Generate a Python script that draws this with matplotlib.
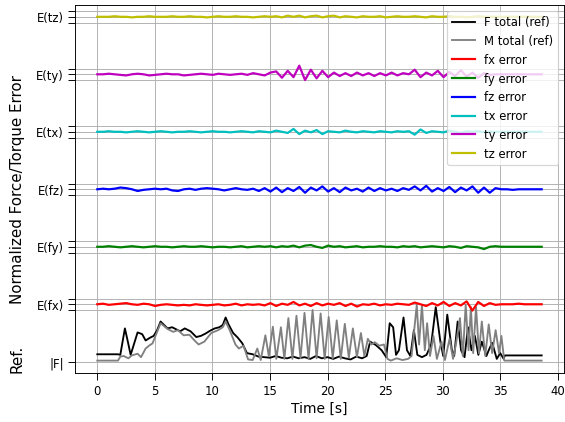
import numpy as np
import matplotlib
matplotlib.use("Agg")
import matplotlib.pyplot as plt
import matplotlib.transforms as mtransforms

# reference signals (normalized), time in s
f_t = [0, 1.8, 2.0, 2.2, 2.4, 2.6, 2.9, 3.1, 3.5, 3.9, 4.2, 4.6, 4.9, 5.2, 5.5,
       5.8, 6.1, 6.5, 6.8, 7.2, 7.6, 8.1, 8.6, 9.0, 9.4, 9.8, 10.2, 10.6, 10.9,
       11.15, 11.4, 11.8, 12.2, 12.6, 13.0, 13.5, 14.0, 14.5, 15.0, 15.5, 16.0,
       16.5, 17.0, 17.5, 18.0, 18.5, 19.0, 19.5, 20.0, 20.5, 21.0, 21.5, 22.0,
       22.5, 23.0, 23.4, 23.7, 24.2, 24.7, 25.1, 25.4, 25.7, 25.95, 26.2, 26.6,
       26.9, 27.2, 27.5, 27.8, 28.2, 28.6, 29.0, 29.4, 29.8, 30.05, 30.4, 30.8,
       31.0, 31.3, 31.6, 31.9, 32.2, 32.5, 32.8, 33.1, 33.4, 33.8, 34.0, 34.3,
       34.7, 35.0, 35.3, 35.4, 38.6]
f_total = [0.13, 0.13, 0.12, 0.35, 0.58, 0.40, 0.12, 0.25, 0.51, 0.48, 0.37,
           0.42, 0.45, 0.55, 0.70, 0.64, 0.58, 0.60, 0.57, 0.53, 0.58, 0.53,
           0.43, 0.45, 0.49, 0.54, 0.58, 0.60, 0.64, 0.77, 0.65, 0.50, 0.42,
           0.32, 0.15, 0.13, 0.09, 0.08, 0.07, 0.10, 0.07, 0.06, 0.09, 0.06,
           0.08, 0.05, 0.10, 0.06, 0.08, 0.05, 0.09, 0.06, 0.04, 0.09, 0.06,
           0.10, 0.35, 0.29, 0.20, 0.08, 0.67, 0.60, 0.12, 0.20, 0.77, 0.20,
           0.10, 0.55, 0.12, 0.08, 0.12, 0.30, 0.95, 0.35, 0.10, 0.82, 0.20,
           0.10, 0.70, 0.20, 0.08, 0.60, 0.20, 0.45, 0.12, 0.35, 0.10, 0.20,
           0.33, 0.05, 0.15, 0.05, 0.11, 0.11]

m_t = [0, 1.8, 2.0, 2.3, 2.7, 3.0, 3.5, 3.8, 4.2, 4.5, 4.8, 5.2, 5.5, 5.8, 6.1,
       6.6, 7.0, 7.5, 8.0, 8.4, 8.8, 9.3, 9.9, 10.5, 10.9, 11.15, 11.5, 12.0,
       12.3, 12.7, 13.1, 13.5, 13.9, 14.2, 14.6, 14.9, 15.25, 15.55, 15.95,
       16.25, 16.6, 16.95, 17.3, 17.65, 18.0, 18.35, 18.7, 19.05, 19.4, 19.75,
       20.1, 20.45, 20.8, 21.15, 21.5, 21.85, 22.2, 22.55, 22.9, 23.2, 23.5,
       23.8, 24.1, 24.5, 24.9, 25.2, 25.5, 26.0, 26.5, 27.0, 27.3, 27.75, 27.95,
       28.2, 28.45, 28.65, 28.9, 29.2, 29.5, 29.9, 30.2, 30.6, 30.9, 31.15,
       31.5, 31.75, 32.0, 32.25, 32.45, 32.65, 32.9, 33.15, 33.4, 33.7, 34.0,
       34.3, 34.6, 34.9, 35.1, 35.35, 38.6]
m_total = [0.02, 0.02, 0.09, 0.10, 0.06, 0.11, 0.14, 0.08, 0.23, 0.28, 0.32,
           0.52, 0.67, 0.62, 0.57, 0.52, 0.55, 0.46, 0.47, 0.38, 0.30, 0.35,
           0.50, 0.55, 0.60, 0.70, 0.55, 0.30, 0.23, 0.28, 0.04, 0.03, 0.23,
           0.03, 0.46, 0.10, 0.61, 0.05, 0.60, 0.05, 0.76, 0.05, 0.80, 0.06,
           0.85, 0.05, 0.90, 0.06, 0.84, 0.05, 0.78, 0.06, 0.72, 0.05, 0.66,
           0.07, 0.58, 0.08, 0.50, 0.10, 0.40, 0.30, 0.34, 0.28, 0.30, 0.05,
           0.02, 0.06, 0.03, 0.05, 0.10, 0.99, 0.30, 0.99, 0.20, 0.67, 0.10,
           0.45, 0.05, 0.35, 0.03, 0.40, 0.05, 0.30, 0.76, 0.10, 0.99, 0.20,
           0.95, 0.15, 0.95, 0.15, 0.70, 0.10, 0.65, 0.15, 0.55, 0.15, 0.45,
           0.02, 0.02]

# normalized errors (deviation around each row), sampled every ~0.5 s
fx_err = [0.00, 0.01, -0.01, 0.00, 0.01, 0.02, 0.00, -0.01, 0.01, 0.00, -0.03,
          -0.01, 0.00, -0.01, -0.02, -0.01, -0.02, 0.00, -0.01, -0.02, -0.01,
          0.00, -0.02, -0.01, 0.01, -0.02, 0.00, -0.01, 0.00, -0.02, 0.02, -0.03,
          0.01, -0.01, 0.04, -0.02, 0.01, -0.03, 0.02, -0.02, 0.01, -0.01, 0.02,
          -0.03, 0.01, -0.04, 0.00, -0.01, 0.01, -0.02, 0.00, -0.01, 0.01, 0.00,
          -0.01, 0.03, 0.00, -0.03, 0.02, -0.02, 0.04, -0.03, 0.02, -0.02, 0.05,
          -0.11, 0.04, -0.03, 0.02, -0.01, 0.00, 0.00, 0.00, 0.01, 0.00, 0.00,
          0.00, 0.00]
fy_err = [0.00, 0.00, 0.01, 0.00, -0.01, 0.00, 0.01, 0.00, -0.01, 0.00, 0.01,
          0.00, 0.00, -0.01, 0.00, 0.01, 0.00, 0.00, 0.01, 0.00, -0.01, 0.00,
          0.00, -0.01, 0.00, 0.01, -0.01, 0.00, 0.01, 0.00, 0.01, -0.01, 0.01,
          0.00, 0.02, -0.01, 0.02, 0.03, 0.00, -0.02, 0.02, 0.00, 0.01, -0.01,
          0.00, 0.01, -0.01, 0.00, 0.00, 0.01, 0.00, 0.00, -0.01, 0.01, 0.00,
          0.01, -0.01, 0.00, 0.01, 0.00, -0.01, 0.01, 0.00, -0.02, 0.01, 0.00,
          -0.01, -0.04, 0.00, 0.01, 0.00, 0.00, 0.00, 0.00, 0.00, 0.00, 0.00,
          0.00]
fz_err = [0.00, 0.01, 0.00, 0.01, 0.03, 0.02, 0.00, -0.03, -0.01, 0.00, 0.01,
          0.00, 0.01, -0.02, -0.03, 0.00, 0.01, -0.01, 0.01, 0.02, 0.01, 0.00,
          -0.02, 0.00, 0.02, 0.00, -0.01, 0.01, -0.03, 0.02, -0.04, 0.03, -0.05,
          0.02, -0.03, 0.04, -0.06, 0.03, -0.02, 0.05, -0.04, 0.02, -0.05, 0.03,
          -0.02, 0.01, -0.04, 0.03, -0.03, 0.02, -0.02, 0.01, -0.03, 0.02, -0.01,
          0.05, -0.02, 0.06, -0.04, 0.02, -0.03, 0.04, -0.05, 0.03, -0.02, 0.05,
          -0.06, 0.03, -0.06, 0.02, 0.00, 0.00, -0.01, 0.00, 0.00, 0.00, 0.00,
          0.00]
tx_err = [0.00, 0.00, 0.01, 0.00, 0.00, -0.01, 0.00, 0.01, 0.00, -0.01, 0.00,
          0.01, 0.00, -0.01, 0.00, 0.00, 0.01, 0.00, -0.01, 0.00, 0.01, 0.00,
          0.00, -0.01, 0.00, 0.01, 0.00, -0.01, 0.01, 0.00, -0.01, 0.02, 0.00,
          -0.02, 0.05, -0.04, 0.02, -0.01, 0.03, -0.04, 0.01, 0.00, -0.01, 0.02,
          0.00, -0.01, 0.01, 0.00, -0.01, 0.01, 0.00, -0.01, 0.01, 0.00, 0.01,
          -0.05, 0.04, -0.02, 0.01, 0.00, -0.01, 0.02, 0.00, -0.02, 0.01, 0.00,
          0.01, -0.01, 0.00, 0.00, 0.00, 0.00, 0.00, 0.00, 0.00, 0.00, 0.00,
          0.00]
ty_err = [0.00, 0.00, 0.01, 0.00, -0.01, -0.02, 0.00, 0.01, 0.00, -0.02, -0.01,
          0.00, 0.01, 0.00, 0.00, -0.02, -0.01, 0.00, 0.01, 0.00, -0.01, 0.01,
          0.00, -0.01, 0.00, 0.01, -0.01, 0.02, 0.00, -0.02, 0.03, 0.05, -0.06,
          0.06, -0.05, 0.15, -0.10, 0.08, -0.07, 0.06, -0.05, 0.03, -0.03, 0.02,
          -0.03, 0.03, -0.02, 0.02, -0.03, 0.02, -0.02, 0.03, -0.02, 0.02, 0.00,
          0.08, -0.05, 0.03, -0.02, 0.06, -0.05, 0.04, -0.03, 0.07, -0.04, 0.03,
          -0.06, 0.02, -0.01, 0.00, 0.00, 0.00, 0.00, 0.00, 0.00, 0.00, 0.00,
          0.00]
tz_err = [0.00, 0.00, 0.00, 0.01, 0.00, 0.00, -0.01, 0.00, 0.00, 0.01, 0.00,
          0.00, 0.00, 0.01, 0.00, 0.00, 0.01, 0.00, 0.00, -0.01, 0.00, 0.01,
          0.00, 0.00, 0.01, 0.00, 0.00, -0.01, 0.00, 0.01, 0.00, 0.01, -0.01,
          0.02, 0.00, 0.02, -0.01, 0.01, 0.02, -0.01, 0.01, 0.02, -0.01, 0.01,
          0.00, -0.01, 0.01, 0.00, 0.00, 0.01, -0.01, 0.00, 0.01, 0.00, 0.00,
          0.01, 0.00, -0.01, 0.01, 0.00, 0.00, 0.01, 0.00, 0.00, -0.01, 0.00,
          0.01, 0.00, 0.00, 0.00, 0.00, 0.00, 0.00, 0.00, 0.00, 0.00, 0.00,
          0.00]
t_end = 38.6

err_names = ["fx", "fy", "fz", "tx", "ty", "tz"]
err_data = [fx_err, fy_err, fz_err, tx_err, ty_err, tz_err]
err_colors = ["r", "g", "b", "c", "m", "y"]


def plot_errors():
    dpi = 83.5
    fig = plt.figure(figsize=(565.4 / dpi, 422.4 / dpi), dpi=dpi)
    ax = fig.add_axes([75 / 565, (422 - 373.3) / 422,
                       (563.5 - 75) / 565, (373.3 - 5.7) / 422])

    ax.plot(f_t, f_total, color="k", lw=1.6, label="F total (ref)")
    ax.plot(m_t, m_total, color="gray", lw=1.6, label="M total (ref)")
    for i, (name, vals, col) in enumerate(zip(err_names, err_data, err_colors)):
        t = np.linspace(0, t_end, len(vals))
        ax.plot(t, np.array(vals) + i + 1, color=col, lw=1.9,
                label=name + " error")

    ticks = [0]
    labels = ["|F|"]
    for i, name in enumerate(err_names):
        k = i + 1
        ticks += [k - 0.1, k, k + 0.1]
        labels += ["", "E(%s)" % name, ""]
    ax.set_yticks(ticks)
    ax.set_yticklabels(labels)
    ax.tick_params(length=6)
    ax.set_ylim(-0.2, 6.2)
    ax.set_xlim(-1.93, 40.53)
    ax.set_xticks([0, 5, 10, 15, 20, 25, 30, 35, 40])
    ax.grid(True)

    ax.set_xlabel("Time [s]", fontsize=12)
    ax.set_ylabel("Normalized Force/Torque Error", fontsize=13)
    ax.yaxis.set_label_coords(-0.102, 0.5)
    trans = mtransforms.blended_transform_factory(ax.transAxes, ax.transData)
    ax.text(-0.118, 0.06, "Ref.", transform=trans, rotation=90,
            ha="center", va="center", fontsize=13)

    ax.legend(loc="upper right", fontsize=10)
    fig.savefig("out.png", dpi=dpi)
    plt.close(fig)


if __name__ == "__main__":
    plot_errors()
